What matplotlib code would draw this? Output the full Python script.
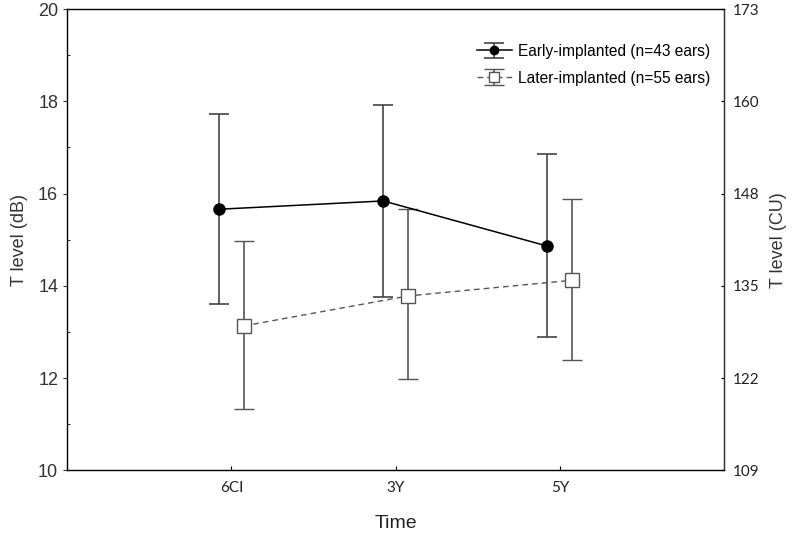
import numpy as np
import matplotlib
matplotlib.use("Agg")
import matplotlib.pyplot as plt
from matplotlib.ticker import MultipleLocator

# valeurs (dB)
times = ["6CI", "3Y", "5Y"]
early_mean = [15.66, 15.84, 14.86]
early_hi = [17.72, 17.93, 16.85]
early_lo = [13.60, 13.76, 12.89]
later_mean = [13.13, 13.78, 14.12]
later_hi = [14.97, 15.66, 15.88]
later_lo = [11.32, 11.97, 12.39]
cu_labels = ["109", "122", "135", "148", "160", "173"]

plt.rcParams["font.family"] = ["Liberation Sans", "DejaVu Sans"]

x = np.arange(1, len(times) + 1)
em, lm = np.array(early_mean), np.array(later_mean)
e_err = [em - np.array(early_lo), np.array(early_hi) - em]
l_err = [lm - np.array(later_lo), np.array(later_hi) - lm]

fig = plt.figure(figsize=(8, 5.35), dpi=100)
ax = fig.add_axes([0.084, 0.121, 0.821, 0.862])

h1 = ax.errorbar(x - 0.075, em, yerr=e_err, fmt="-o", color="black", ecolor="#444444",
                 elinewidth=1.2, capsize=7.5, capthick=1.2, lw=1.1, ms=8,
                 label="Early-implanted (n=43 ears)")
h2 = ax.errorbar(x + 0.075, lm, yerr=l_err, fmt="--s", color="#555555", ecolor="#555555",
                 elinewidth=1.2, capsize=7.5, capthick=1.2, lw=1.0, ms=9.5, mfc="white",
                 mec="#555555", mew=1.0, dashes=(4, 3),
                 label="Later-implanted (n=55 ears)")

ax.set_xlim(0, 4)
ax.set_ylim(10, 20)
ax.set_xticks(x)
ax.set_xticklabels(times, family=["Lato", "DejaVu Sans"], fontsize=11, color="#222222")
ax.yaxis.set_major_locator(MultipleLocator(2))
ax.yaxis.set_minor_locator(MultipleLocator(1))
ax.tick_params(axis="x", direction="in", length=3, pad=8)
ax.tick_params(axis="y", which="major", direction="out", length=3, labelsize=13, colors="#333333")
ax.tick_params(axis="y", which="minor", direction="in", length=2)
ax.set_xlabel("Time", fontsize=14, color="#222222", labelpad=14)
ax.set_ylabel("T level (dB)", fontsize=13, color="#333333", labelpad=7)
for s in ax.spines.values():
    s.set_color("#333333")
    s.set_linewidth(1.0)

ax2 = ax.twinx()
ax2.set_ylim(10, 20)
ax2.set_yticks(np.arange(10, 21, 2))
ax2.set_yticklabels(cu_labels, family=["Lato", "DejaVu Sans"], fontsize=11, color="#222222")
ax2.tick_params(axis="y", direction="in", length=2, pad=6)
ax2.set_ylabel("T level (CU)", fontsize=13, color="#333333", labelpad=8)
ax2.spines["right"].set_color("#333333")

ax.legend(handles=[h1, h2], loc="upper right", bbox_to_anchor=(1.0, 0.955), frameon=False,
          fontsize=11.2, handlelength=2.2, labelspacing=0.75, handletextpad=0.4,
          markerscale=0.75)

fig.savefig("out.png", dpi=100)
